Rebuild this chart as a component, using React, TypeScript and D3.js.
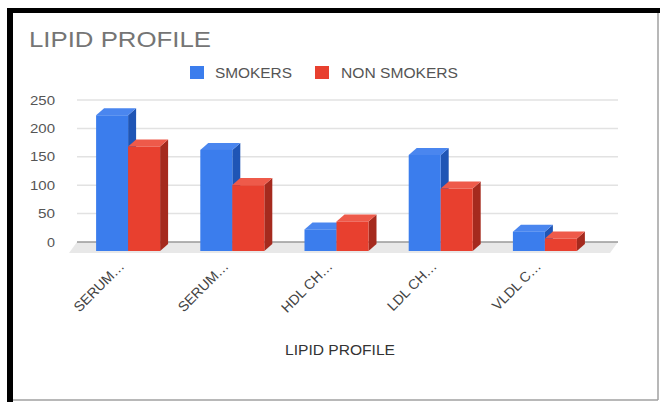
import React from "react";
import * as d3 from "d3";

const categories = ["SERUM…", "SERUM…", "HDL CH…", "LDL CH…", "VLDL C…"];
const smokers = [239, 178, 38, 169, 34];
const nonSmokers = [184, 116, 52, 110, 22];
const yTicks = [0, 50, 100, 150, 200, 250];
const seriesNames = ["SMOKERS", "NON SMOKERS"];
const chartTitle = "LIPID PROFILE";
const axisTitle = "LIPID PROFILE";

const W = 660;
const H = 402;
const FONT = "'Liberation Sans', Arial, sans-serif";

const colors = [
  { front: "#3b7ded", top: "#4a86ef", side: "#1f55b5" },
  { front: "#e8402f", top: "#ee5a4a", side: "#a52a1e" },
];

export default function App() {
  const y = d3.scaleLinear().domain([0, 250]).range([242, 100]);
  const x = d3.scaleBand<number>().domain(d3.range(categories.length)).range([76, 597]);
  const y0 = y(0);
  const gridL = 77;
  const gridR = 618;
  const barW = 32;
  const fOff = 9; // front face offset downward
  const dx = 8;
  const dy = 7;

  const series = [smokers, nonSmokers];

  const bar = (cx: number, v: number, c: typeof colors[0], key: string) => {
    const xl = cx;
    const xr = cx + barW;
    const yt = y(v) + fOff;
    const yb = y0 + fOff;
    const top = `M${xl},${yt} L${xl + dx},${yt - dy} L${xr + dx},${yt - dy} L${xr},${yt} Z`;
    const side = `M${xr},${yt} L${xr + dx},${yt - dy} L${xr + dx},${yb - dy} L${xr},${yb} Z`;
    return (
      <g key={key}>
        <path d={side} fill={c.side} />
        <path d={top} fill={c.top} />
        <rect x={xl} y={yt} width={barW} height={yb - yt} fill={c.front} />
      </g>
    );
  };

  return (
    <svg
      width={W}
      height={H}
      style={{ position: "absolute", left: 0, top: 0, background: "#fff" }}
      fontFamily={FONT}
    >
      {/* frame */}
      <rect x={0} y={0} width={W} height={H} fill="#fff" />
      <line x1={658} y1={10} x2={658} y2={400} stroke="#a0a0a0" strokeWidth={1.5} />
      <line x1={10} y1={400} x2={658} y2={400} stroke="#a0a0a0" strokeWidth={1.5} />
      <line x1={7} y1={10.5} x2={660} y2={10.5} stroke="#000" strokeWidth={5} />
      <line x1={10} y1={8} x2={10} y2={402} stroke="#000" strokeWidth={6} />

      {/* title */}
      <text x={29} y={47} fontSize={22} fill="#757575" textLength={182} lengthAdjust="spacingAndGlyphs">
        {chartTitle}
      </text>

      {/* legend */}
      <rect x={190} y={66} width={14} height={13} fill={colors[0].front} />
      <text x={215} y={78} fontSize={14} fill="#555" textLength={77} lengthAdjust="spacingAndGlyphs">
        {seriesNames[0]}
      </text>
      <rect x={315} y={66} width={14} height={13} fill={colors[1].front} />
      <text x={341} y={78} fontSize={14} fill="#555" textLength={117} lengthAdjust="spacingAndGlyphs">
        {seriesNames[1]}
      </text>

      {/* gridlines */}
      {yTicks.map((t) => (
        <g key={t}>
          {t !== 0 && (
            <line x1={gridL} x2={gridR} y1={y(t)} y2={y(t)} stroke="#e2e2e2" strokeWidth={1.5} />
          )}
          <text
            x={55}
            y={y(t) + 4.5}
            fontSize={13}
            fill="#555"
            textAnchor="end"
            textLength={t === 0 ? 8 : t < 100 ? 17 : 25}
            lengthAdjust="spacingAndGlyphs"
          >
            {t}
          </text>
        </g>
      ))}

      {/* floor */}
      <path
        d={`M${gridL},${y0} L${gridR},${y0} L${gridR - dx},${y0 + fOff + 2} L${gridL - dx},${y0 + fOff + 2} Z`}
        fill="#e8e8e8"
      />
      <line x1={gridL} x2={gridR} y1={y0} y2={y0} stroke="#9a9a9a" strokeWidth={1.5} />

      {/* bars */}
      {categories.map((_, i) => {
        const gx = (x(i) as number) + x.bandwidth() / 2 - barW;
        return (
          <g key={i}>
            {series.map((s, k) => bar(gx + k * barW, s[i], colors[k], `${i}-${k}`))}
          </g>
        );
      })}

      {/* x labels */}
      {categories.map((c, i) => {
        const cx = (x(i) as number) + x.bandwidth() / 2;
        return (
          <text
            key={i}
            transform={`translate(${cx - 3},${267}) rotate(-45)`}
            fontSize={14}
            fill="#444"
            textAnchor="end"
          >
            {c}
          </text>
        );
      })}

      {/* axis title */}
      <text x={340} y={355} fontSize={14} fill="#333" textAnchor="middle" textLength={110} lengthAdjust="spacingAndGlyphs">
        {axisTitle}
      </text>
    </svg>
  );
}
